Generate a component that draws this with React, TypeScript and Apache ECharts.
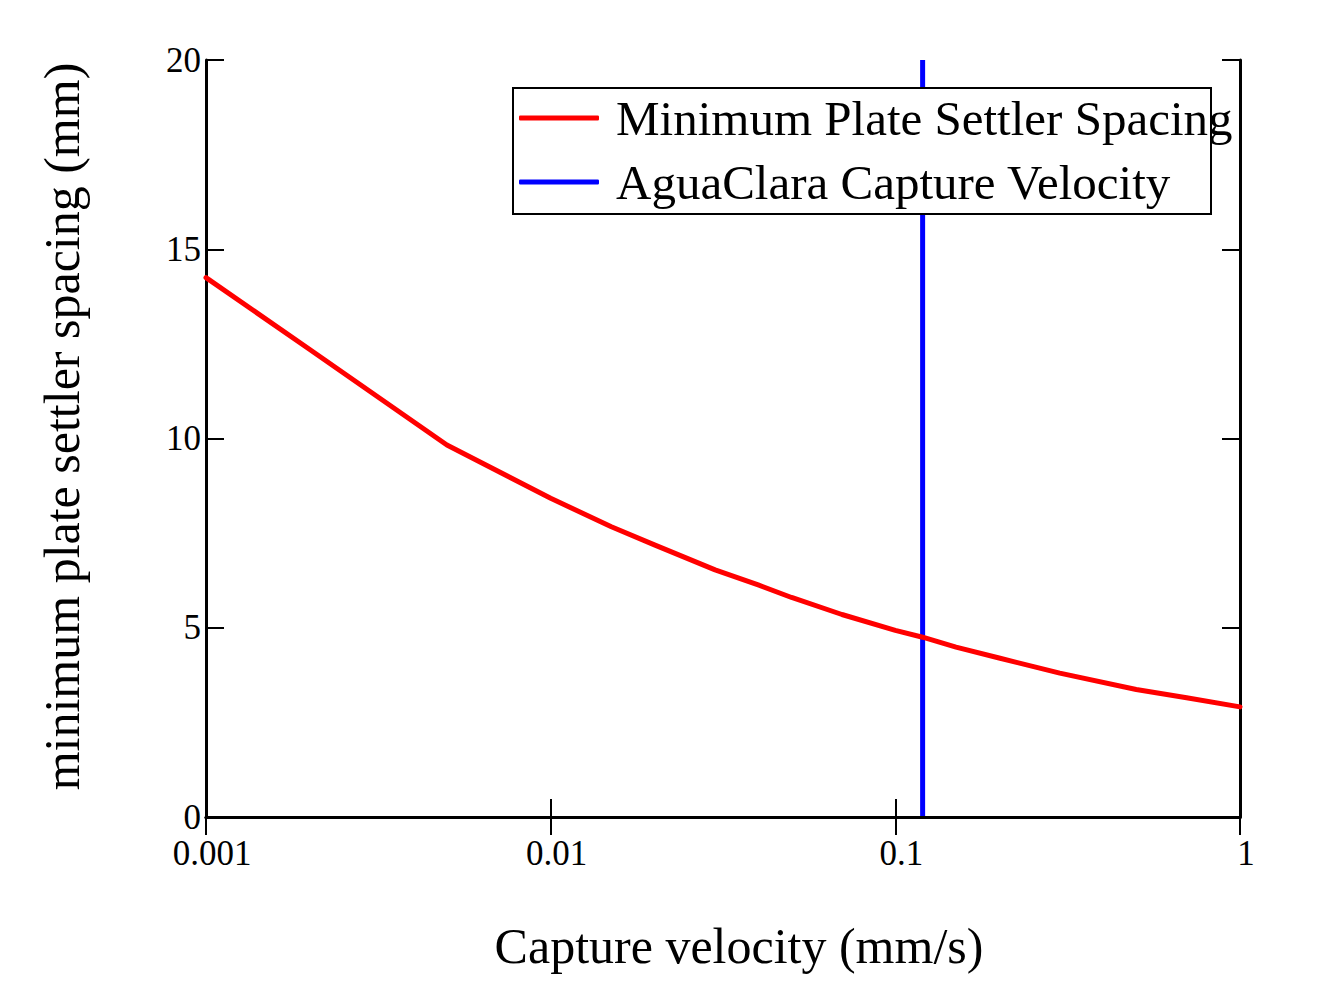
import React, { useEffect, useRef } from "react";
import * as echarts from "echarts";

// Capture velocity (mm/s)
const velocity = [0.001, 0.002, 0.005, 0.01, 0.015, 0.02, 0.03, 0.04, 0.05, 0.07, 0.1, 0.12, 0.15, 0.2, 0.3, 0.5, 0.7, 1];
// Minimum plate settler spacing (mm)
const spacing = [14.25, 12.35, 9.83, 8.42, 7.67, 7.19, 6.53, 6.13, 5.8, 5.35, 4.93, 4.75, 4.49, 4.2, 3.8, 3.37, 3.15, 2.91];
// AguaClara capture velocity (mm/s)
const aguaClaraVelocity = [0.12, 0.12];
const aguaClaraSpan = [0, 20];
const xTickLabels = ["0.001", "0.01", "0.1", "1"];
const seriesNames = ["Minimum Plate Settler Spacing", "AguaClara Capture Velocity"];

const FONT = "'Liberation Serif', 'Times New Roman', serif";

export default function App() {
  const ref = useRef<HTMLDivElement>(null);
  useEffect(() => {
    if (!ref.current) return;
    const chart = echarts.init(ref.current, null, { renderer: "svg" });
    const xLabel = (v: number) => {
      const i = Math.round(Math.log10(v)) + 3;
      return xTickLabels[i] ?? "";
    };
    const axisLine = { show: true, lineStyle: { color: "#000", width: 3 } };
    const axisTick = { show: true, inside: true, length: 18, lineStyle: { color: "#000", width: 2 } };
    chart.setOption({
      animation: false,
      backgroundColor: "#fff",
      textStyle: { fontFamily: FONT },
      grid: { left: 206, right: 87, top: 60, bottom: 181, containLabel: false },
      graphic: [
        {
          type: "rect",
          z: 50,
          z2: 100,
          silent: true,
          shape: { x: 513, y: 88, width: 698, height: 126 },
          style: { fill: "#ffffff", stroke: "#000", lineWidth: 2 },
        },
      ],
      legend: {
        left: 513,
        top: 88,
        z: 200,
        orient: "vertical",
        backgroundColor: "transparent",
        borderWidth: 0,
        padding: [5, 6, 7, 6],
        itemGap: 14,
        itemWidth: 80,
        itemHeight: 5,
        icon: "roundRect",
        textStyle: {
          fontFamily: FONT,
          fontSize: 49,
          color: "#000",
          lineHeight: 50,
          padding: [0, 0, 0, 12],
        },
        data: seriesNames,
      },
      xAxis: [
        {
          type: "log",
          logBase: 10,
          min: 0.001,
          max: 1,
          position: "bottom",
          axisLine,
          axisTick,
          minorTick: { show: false },
          splitLine: { show: false },
          axisLabel: {
            formatter: xLabel,
            fontFamily: FONT,
            fontSize: 35,
            lineHeight: 28,
            color: "#000",
            margin: 22,
            padding: [0, 0, 0, 12],
          },
          name: "Capture velocity (mm/s)",
          nameLocation: "middle",
          nameGap: 104,
          nameTextStyle: { fontFamily: FONT, fontSize: 50, color: "#000", padding: [0, 0, 0, 32] },
        },
        {
          type: "log",
          logBase: 10,
          min: 0.001,
          max: 1,
          position: "top",
          axisLine,
          axisTick,
          splitLine: { show: false },
          axisLabel: { show: false },
        },
      ],
      yAxis: [
        {
          type: "value",
          min: 0,
          max: 20,
          interval: 5,
          position: "left",
          axisLine,
          axisTick,
          splitLine: { show: false },
          axisLabel: {
            fontFamily: FONT,
            fontSize: 35,
            lineHeight: 28,
            color: "#000",
            margin: 5,
            padding: [8, 0, 0, 0],
          },
          name: "minimum plate settler spacing (mm)",
          nameLocation: "middle",
          nameGap: 119,
          nameTextStyle: { fontFamily: FONT, fontSize: 50, color: "#000", padding: [0, 0, 0, 24] },
        },
        {
          type: "value",
          min: 0,
          max: 20,
          interval: 5,
          position: "right",
          axisLine,
          axisTick,
          splitLine: { show: false },
          axisLabel: { show: false },
        },
      ],
      series: [
        {
          name: seriesNames[0],
          type: "line",
          xAxisIndex: 0,
          yAxisIndex: 0,
          showSymbol: false,
          symbol: "none",
          z: 2,
          color: "#ff0000",
          lineStyle: { color: "#ff0000", width: 5, join: "round", cap: "round" },
          data: velocity.map((v, i) => [v, spacing[i]]),
        },
        {
          name: seriesNames[1],
          type: "line",
          xAxisIndex: 0,
          yAxisIndex: 0,
          showSymbol: false,
          symbol: "none",
          z: -1,
          color: "#0000ff",
          lineStyle: { color: "#0000ff", width: 5 },
          data: aguaClaraVelocity.map((v, i) => [v, aguaClaraSpan[i]]),
        },
      ],
    });
    return () => chart.dispose();
  }, []);
  return (
    <div
      ref={ref}
      style={{ position: "fixed", left: 0, top: 0, width: 1327, height: 998, background: "#fff" }}
    />
  );
}
